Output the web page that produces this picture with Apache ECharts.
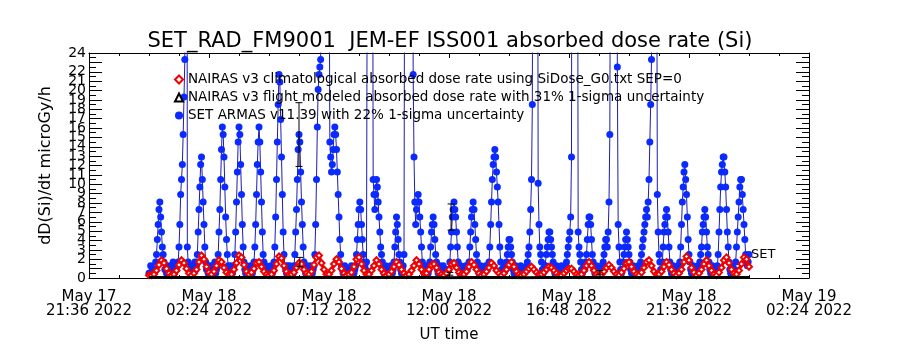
<!DOCTYPE html>
<html>
<head>
<meta charset="utf-8">
<script src="https://cdn.jsdelivr.net/npm/echarts@6/dist/echarts.min.js"></script>
<style>
    html, body { margin: 0; padding: 0; background: #fff; }
    #chart { width: 900px; height: 350px; }
</style>
</head>
<body>
<div id="chart"></div>
<script>
// all data times are minutes after 2022-05-18 00:00 UT
const axisStart = Date.UTC(2022, 4, 17, 21, 36)
const dataStart = Date.UTC(2022, 4, 18, 0, 0)

const xTickLabels = ['May 17\n21:36 2022', 'May 18\n02:24 2022', 'May 18\n07:12 2022', 'May 18\n12:00 2022',
    'May 18\n16:48 2022', 'May 18\n21:36 2022', 'May 19\n02:24 2022']

const seriesNames = [
    'NAIRAS v3 climatological absorbed dose rate using SiDose_G0.txt SEP=0',
    'NAIRAS v3 flight modeled absorbed dose rate with 31% 1-sigma uncertainty',
    'SET ARMAS v11.39 with 22% 1-sigma uncertainty'
]

// SET ARMAS, one value every 2 minutes (one row = 48 min)
const setStep = 2
const setDose = [
    0.5,0.5,1.3,0.5,0.9,0.5,0.9,0.9,1.7,2.5,4.1,5.7,7.3,8.1,6.5,4.9,3.3,2.5,1.7,0.9,0.9,0.5,1.3,0.9,
    0.5,0.9,1.3,0.5,0.9,1.7,0.5,0.9,1.3,0.9,1.3,1.7,3.3,5.7,8.9,10.5,12.1,15.3,19.3,23.3,80,120,3.3,1.7,
    0.9,0.9,0.5,1.3,0.9,0.5,0.9,1.7,0.9,1.3,2.5,4.9,7.3,9.7,12.1,12.9,10.5,8.1,5.7,3.3,1.7,0.9,1.3,0.5,
    0.5,1.3,0.9,0.5,1.3,0.5,0.9,1.7,0.5,0.9,1.3,2.5,4.9,7.3,10.5,13.7,16.1,15.3,12.9,9.7,6.5,4.1,2.5,1.3,
    0.9,0.5,1.3,0.9,0.5,0.9,1.3,2.5,4.9,8.1,11.3,14.5,16.1,15.3,12.1,8.9,5.7,3.3,1.7,0.9,0.5,1.3,0.9,0.5,
    0.5,0.9,1.3,0.9,0.5,0.9,1.7,3.3,5.7,8.9,12.1,14.5,16.1,14.5,11.3,8.1,4.9,2.5,1.7,0.9,1.3,0.5,0.9,0.9,
    0.9,0.5,1.3,0.9,0.5,0.9,1.7,3.3,6.5,10.5,14.5,18.5,21.7,20.9,16.9,12.9,8.9,4.9,2.5,1.3,0.9,0.5,1.3,0.9,
    0.5,1.3,0.9,0.5,0.9,0.5,1.3,2.5,4.9,7.3,10.5,13.7,15.3,14.5,11.3,8.1,5.7,3.3,1.7,0.9,0.5,0.9,1.3,0.5,
    0.9,0.5,1.3,0.9,0.5,0.9,1.3,2.5,5.7,10.5,16.1,20.1,21.7,22.5,23.3,40,70,100,120,110,90,70,60,50,
    40,14.5,12.9,11.3,12.1,13.7,15.3,16.1,15.3,13.7,11.3,8.9,6.5,4.1,2.5,1.3,0.9,0.5,0.9,1.3,0.9,0.5,0.9,0.5,
    0.9,0.5,0.9,1.3,0.9,0.9,0.5,0.9,1.3,2.5,4.1,5.7,7.3,8.1,7.3,5.7,4.1,2.5,1.7,1.3,0.9,1.7,40,90,
    120,150,130,100,60,10.5,8.9,7.3,8.9,10.5,9.7,8.1,6.5,4.9,3.3,2.5,1.7,0.9,0.5,0.9,1.3,0.9,0.5,0.9,
    0.5,0.9,1.3,0.9,0.5,0.9,1.7,3.3,4.9,6.5,5.7,4.1,2.5,1.7,0.9,0.5,0.9,1.3,2.5,50,100,130,140,120,
    100,90,80,70,60,21.7,12.9,8.1,5.7,7.3,8.1,8.9,8.1,6.5,4.9,3.3,1.7,0.9,0.5,0.9,1.3,0.5,0.9,0.5,
    0.9,1.7,3.3,4.9,5.7,6.5,5.7,4.1,2.5,1.7,0.9,0.5,0.9,1.3,0.9,0.5,0.9,1.3,0.9,0.5,0.9,0.5,0.9,0.9,
    0.9,1.7,3.3,4.9,6.5,7.3,8.1,7.3,6.5,4.9,3.3,1.7,0.9,0.5,1.3,0.9,0.5,0.9,0.5,0.9,1.3,0.9,0.9,1.3,
    1.7,3.3,4.9,6.5,7.3,8.1,7.3,5.7,4.1,2.5,1.7,0.9,0.5,0.9,1.3,0.9,0.5,0.9,0.5,0.9,1.3,0.9,0.9,1.3,
    1.7,3.3,5.7,8.1,10.5,12.1,12.9,13.7,12.9,11.3,9.7,8.1,5.7,3.3,1.7,0.9,0.5,0.9,1.3,0.9,0.9,1.7,2.5,3.3,
    4.1,4.1,3.3,2.5,1.7,0.9,0.5,0.9,1.3,0.9,0.5,0.9,0.5,0.9,1.3,0.9,0.5,0.9,0.5,0.9,0.9,1.3,1.7,2.5,
    3.3,4.9,7.3,10.5,18.5,60,120,150,140,110,60,10.1,5.7,3.3,2.5,1.7,0.9,0.5,0.9,1.3,1.3,2.5,3.3,4.1,
    4.9,4.9,4.1,3.3,2.5,1.7,0.9,0.5,0.9,1.3,0.9,0.5,0.9,0.5,0.9,1.3,0.9,0.5,0.9,0.9,1.3,1.7,2.5,3.3,
    4.1,4.9,6.5,12.9,80,150,200,180,150,100,60,4.9,3.3,2.5,1.7,0.9,0.5,0.9,1.3,0.9,1.7,2.5,4.1,5.7,
    6.5,6.5,5.7,4.1,2.5,1.7,0.9,0.5,0.9,1.3,0.9,0.5,0.9,0.5,0.9,1.3,0.9,1.7,2.5,3.3,4.1,4.1,3.3,4.9,
    8.1,15.3,50,120,160,180,170,150,120,80,22.5,5.7,3.3,1.7,0.9,0.5,0.9,1.7,2.5,3.3,4.1,4.9,4.1,3.3,
    2.5,1.7,0.9,0.5,0.9,1.3,0.9,0.5,0.9,0.5,0.9,1.3,0.9,1.3,1.7,2.5,3.3,4.1,4.9,5.7,6.5,7.3,6.5,8.1,
    10.5,14.5,18.5,23.3,90,150,170,140,100,50,8.9,4.9,2.5,1.7,0.9,0.9,1.7,3.3,4.9,5.7,6.5,7.3,6.5,4.9,
    3.3,1.7,0.9,0.5,0.9,1.3,0.9,0.5,0.9,0.5,0.9,1.3,0.9,1.7,3.3,5.7,8.1,9.7,11.3,12.1,10.5,8.9,6.5,4.1,
    2.5,1.7,0.9,0.5,0.9,1.3,0.9,0.5,0.9,0.5,0.9,1.3,0.9,1.7,2.5,3.3,4.9,5.7,6.5,7.3,6.5,4.9,3.3,2.5,
    1.7,0.9,0.5,0.9,1.3,0.9,0.5,0.9,0.5,0.9,1.3,2.5,4.9,7.3,9.7,11.3,12.1,12.9,12.9,11.3,9.7,7.3,4.9,3.3,
    1.7,0.9,0.5,0.9,1.3,0.9,0.5,0.9,1.7,3.3,4.9,6.5,8.1,9.7,10.5,10.5,8.9,7.3,5.7,4.1,2.5,1.7,1.3,1.7,
    2.5
]

// NAIRAS climatological, one value every 6 minutes (one row = 1 hour)
const climStep = 6
const climDose = [
    0.3,0.3,0.4,0.8,1.4,1.9,1.6,1.0,0.5,0.3,
    0.4,0.8,1.4,1.9,1.6,1.0,0.5,0.3,0.5,0.9,
    1.7,2.4,2.0,1.2,0.6,0.4,0.7,1.3,1.9,1.7,
    1.1,0.6,0.4,0.4,0.9,1.6,2.4,2.2,1.4,0.7,
    0.4,0.6,1.0,1.6,1.7,1.2,0.7,0.4,0.3,0.4,
    0.8,1.5,2.3,2.1,1.3,0.7,0.4,0.4,0.6,1.1,
    1.6,1.5,0.9,0.5,0.4,0.7,1.4,2.2,2.4,1.6,
    0.9,0.4,0.4,0.8,1.5,2.0,1.7,1.0,0.5,0.3,
    0.4,0.6,1.2,2.0,2.2,1.5,0.8,0.4,0.4,0.8,
    1.3,1.9,1.5,0.9,0.5,0.3,0.4,0.7,1.2,1.7,
    1.4,0.9,0.5,0.3,0.4,0.8,1.3,1.9,1.5,0.9,
    0.5,0.5,0.9,1.4,1.5,1.1,0.6,0.4,0.3,0.5,
    0.9,1.5,1.6,1.1,0.6,0.4,0.4,0.7,1.2,1.7,
    1.4,0.9,0.5,0.3,0.4,0.7,1.1,1.6,1.3,0.8,
    0.5,0.3,0.5,0.9,1.4,1.7,1.2,0.7,0.4,0.3,
    0.4,0.7,1.0,1.2,0.9,0.6,0.4,0.4,0.6,0.9,
    1.2,1.1,0.8,0.5,0.3,0.3,0.5,0.8,1.0,1.0,
    0.7,0.4,0.3,0.4,0.8,1.3,1.7,1.3,0.8,0.4,
    0.3,0.4,0.7,1.1,1.4,1.1,0.7,0.4,0.3,0.6,
    1.0,1.6,1.7,1.2,0.7,0.4,0.3,0.6,1.1,1.7,
    1.9,1.3,0.7,0.4,0.4,0.7,1.2,1.7,1.4,0.9,
    0.5,0.3,0.5,0.9,1.7,2.3,1.9,1.1,0.6,0.3,
    0.5,0.9,1.5,1.9,1.3,0.8,0.4,0.3,0.6,1.1,
    1.9,2.2,1.6,0.9,0.5,0.4,0.8,1.5,2.2,2.0,
    1.2
]

// NAIRAS flight modeled, hourly
const flightStep = 60
const flightDose = [0.06,0.05,0.06,0.05,0.05,0.06,0.05,0.05,0.06,0.05,0.05,0.05,0.04,
    0.05,0.05,0.04,0.05,0.05,0.06,0.05,0.06,0.06,0.05,0.06,0.06]

// 1-sigma error bars that were drawn
const errMinutes = [360, 725, 362, 722, 1082]
const errLow = [11.9, 5.1, 1.2, 0.3, 0.4]
const errHigh = [18.7, 7.9, 2.2, 0.6, 0.8]

const offsetHours = (dataStart - axisStart) / 3600000
function toPoints(step, values) {
    return values.map((v, i) => [offsetHours + i * step / 60, v])
}
const errData = errMinutes.map((m, i) => [offsetHours + m / 60, errLow[i], errHigh[i]])

const font = 'DejaVu Sans'
const tickInterval = 4.8

function frameAxis(position, showLabel) {
    return {
        type: 'value', position: position, min: 0, max: 28.8, interval: tickInterval,
        axisLine: { show: true, onZero: false, lineStyle: { color: '#000', width: 1 } },
        axisTick: { show: true, inside: true, length: 5, lineStyle: { color: '#000' } },
        minorTick: { show: true, splitNumber: 4, length: 3, lineStyle: { color: '#000' } },
        splitLine: { show: false },
        axisLabel: {
            show: showLabel, color: '#000', fontFamily: font, fontSize: 15, lineHeight: 14, margin: 12,
            showMinLabel: true, showMaxLabel: true,
            formatter: v => xTickLabels[Math.round(v / tickInterval)]
        }
    }
}

function doseAxis(position, showLabel) {
    return {
        type: 'value', position: position, min: 0, max: 24, interval: 1,
        axisLine: { show: true, onZero: false, lineStyle: { color: '#000', width: 1 } },
        axisTick: { show: true, inside: true, length: 13, lineStyle: { color: '#000' } },
        minorTick: { show: true, splitNumber: 2, length: 7, lineStyle: { color: '#000' } },
        splitLine: { show: false },
        axisLabel: {
            show: showLabel, color: '#000', fontFamily: font, fontSize: 14, margin: 3,
            hideOverlap: false, showMinLabel: true, showMaxLabel: true
        }
    }
}

const xBottom = frameAxis('bottom', true)
xBottom.name = 'UT time'
xBottom.nameLocation = 'middle'
xBottom.nameGap = 50
xBottom.nameTextStyle = { color: '#000', fontFamily: font, fontSize: 15 }

const yLeft = doseAxis('left', true)
yLeft.name = 'dD(Si)/dt microGy/h'
yLeft.nameLocation = 'middle'
yLeft.nameGap = 35
yLeft.nameRotate = 90
yLeft.nameTextStyle = { color: '#000', fontFamily: font, fontSize: 16 }

const option = {
    animation: false,
    backgroundColor: '#fff',
    textStyle: { fontFamily: font },
    title: {
        text: 'SET_RAD_FM9001  JEM-EF ISS001 absorbed dose rate (Si)',
        left: 'center', top: 26,
        textStyle: { color: '#000', fontFamily: font, fontSize: 21, fontWeight: 'normal' }
    },
    legend: {
        orient: 'vertical', left: 174, top: 72, padding: 0,
        itemWidth: 8, itemHeight: 8, itemGap: 3,
        textStyle: { color: '#000', fontFamily: font, fontSize: 13.5, lineHeight: 15 },
        data: [
            { name: seriesNames[0], icon: 'emptyDiamond', itemStyle: { color: '#f00000', borderColor: '#f00000', borderWidth: 1 } },
            { name: seriesNames[1], icon: 'emptyTriangle', itemStyle: { color: '#000', borderColor: '#000', borderWidth: 1 } },
            { name: seriesNames[2], icon: 'circle', itemStyle: { color: '#0a2aff' } }
        ]
    },
    grid: { left: 89, right: 91, top: 53, bottom: 72, outerBoundsMode: 'none' },
    xAxis: [xBottom, frameAxis('top', false)],
    yAxis: [yLeft, doseAxis('right', false)],
    series: [
        {
            name: seriesNames[2], type: 'line', data: toPoints(setStep, setDose),
            symbol: 'circle', symbolSize: 7, showAllSymbol: true, clip: true,
            itemStyle: { color: '#0a2aff' },
            lineStyle: { color: '#1c1cb0', width: 1 },
            endLabel: { show: true, formatter: 'SET', color: '#000', fontFamily: font, fontSize: 13, distance: 2 },
            z: 2
        },
        {
            name: seriesNames[0], type: 'line', data: toPoints(climStep, climDose),
            symbol: 'emptyDiamond', symbolSize: 6, showAllSymbol: true, clip: true,
            itemStyle: { color: '#f00000', borderWidth: 1.5 },
            lineStyle: { color: '#f00000', width: 3 },
            z: 3
        },
        {
            name: seriesNames[1], type: 'line', data: toPoints(flightStep, flightDose),
            showSymbol: false, clip: true,
            itemStyle: { color: '#000' },
            lineStyle: { color: '#000', width: 3 },
            z: 4
        },
        {
            type: 'custom', data: errData, z: 5,
            encode: { x: 0, y: [1, 2] },
            renderItem: function (params, api) {
                const x = api.value(0)
                const lo = api.coord([x, api.value(1)])
                const hi = api.coord([x, api.value(2)])
                const w = 3.5
                const st = { stroke: '#000', lineWidth: 1 }
                return {
                    type: 'group', children: [
                        { type: 'line', shape: { x1: lo[0], y1: lo[1], x2: hi[0], y2: hi[1] }, style: st },
                        { type: 'line', shape: { x1: lo[0] - w, y1: lo[1], x2: lo[0] + w, y2: lo[1] }, style: st },
                        { type: 'line', shape: { x1: hi[0] - w, y1: hi[1], x2: hi[0] + w, y2: hi[1] }, style: st }
                    ]
                }
            }
        }
    ]
}

const chart = echarts.init(document.getElementById('chart'))
chart.setOption(option)
</script>
</body>
</html>
